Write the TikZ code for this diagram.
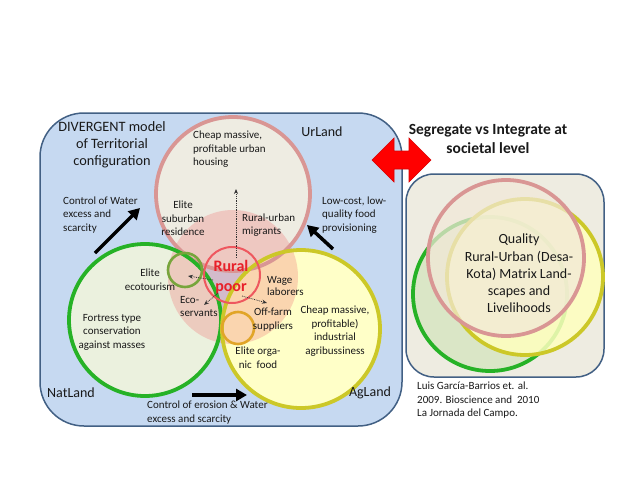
\documentclass[tikz,border=0pt]{standalone}
\usepackage{fontspec}
\setmainfont{Carlito}
\usetikzlibrary{arrows.meta}
\definecolor{boxblue}{RGB}{198,217,241}
\definecolor{boxedge}{RGB}{66,96,132}
\definecolor{beige}{RGB}{238,236,225}
\definecolor{urpink}{RGB}{217,150,148}
\definecolor{urfill}{RGB}{238,236,226}
\definecolor{natgreen}{RGB}{38,178,38}
\definecolor{natfill}{RGB}{235,241,222}
\definecolor{aggold}{RGB}{204,200,40}
\definecolor{agfill}{RGB}{255,255,200}
\definecolor{blobc}{RGB}{240,125,125}
\definecolor{rpred}{RGB}{232,32,42}
\definecolor{ecogreen}{RGB}{120,165,60}
\definecolor{orgold}{RGB}{225,165,40}
\definecolor{txt}{RGB}{25,25,25}
\definecolor{rgreen}{RGB}{218,230,198}
\definecolor{ryellow}{RGB}{255,255,190}
\definecolor{rpink}{RGB}{242,232,216}
\newcommand\myfs[2]{\fontsize{#1}{#2}\selectfont}
\tikzset{
  small/.style={inner sep=0, text=txt, font=\myfs{11}{13.5}},
  big/.style={inner sep=0, text=txt, font=\myfs{14}{17}},
  circ/.style={line width=3.8pt},
  dotarr/.style={densely dotted, line width=0.8pt, black!80, -{Stealth[length=5pt,width=4pt]}},
  bigarr/.style={line width=3.5pt, black, -{Triangle[length=11pt,width=12pt]}},
}
\begin{document}
\begin{tikzpicture}[x=1pt,y=-1pt]
\useasboundingbox (0,0) rectangle (638,493);
\fill[white] (0,0) rectangle (638,493);

% ---------- main (divergent) box ----------
\draw[boxedge, line width=1.5pt, fill=boxblue, rounded corners=44pt] (40,113) rectangle (402,426);

% circle fills
\fill[urfill] (233,194) circle (77pt);
\fill[natfill] (145,320) circle (76pt);
\fill[agfill] (301,329) circle (79pt);
% rural poor zone
\fill[blobc, opacity=0.32] (233,277) ellipse (65pt and 67pt);
% outlines
\draw[urpink, circ] (233,194) circle (77pt);
\draw[natgreen, circ] (145,320) circle (76pt);
\draw[aggold, circ] (301,329) circle (79pt);
\draw[ecogreen, line width=2.6pt] (185,270) circle (17pt);
\draw[orgold, line width=2.6pt] (238,328) circle (16pt);
\node[circle, draw=rpred!75, line width=2pt, minimum size=56pt, inner sep=0] (rp) at (232,275) {};
\node[inner sep=0, text=rpred, font=\bfseries\myfs{16}{20}, align=center] (rptxt) at (231,277) {Rural\\poor};

% dotted arrows from rural poor
\coordinate (upS) at (236,258);
\coordinate (upE) at (236,189);
\coordinate (ecS) at (213,280);
\coordinate (ecE) at (188,276);
\coordinate (esS) at (218,293);
\coordinate (esE) at (204,305);
\coordinate (wgS) at (242,296);
\coordinate (wgE) at (267,303);
\draw[dotarr] (upS) -- (upE);
\draw[dotarr] (ecS) -- (ecE);
\draw[dotarr] (esS) -- (esE);
\draw[dotarr] (wgS) -- (wgE);

% thick black arrows
\coordinate (w1S) at (95,253);
\coordinate (w1E) at (140,208);
\coordinate (w2S) at (333,249);
\coordinate (w2E) at (307,225);
\coordinate (w3S) at (192,395);
\coordinate (w3E) at (247,395);
\draw[bigarr] (w1S) -- (w1E);
\draw[bigarr] (w2S) -- (w2E);
\draw[bigarr] (w3S) -- (w3E);

% texts left box
\node[inner sep=0, text=txt, font=\myfs{14.3}{17}, align=center] (title) at (112,145) {DIVERGENT model\\of Territorial\\configuration};
\node[small, anchor=west, align=left] (cheapurb) at (193,149.5) {Cheap massive,\\profitable urban\\housing};
\node[big] (urland) at (322,132) {UrLand};
\node[small, align=center] (elitesub) at (183,218.5) {Elite\\suburban\\residence};
\node[small, anchor=west, align=left] (migr) at (242,225) {Rural-urban\\migrants};
\node[small, anchor=west, align=left] (lowcost) at (322,215) {Low-cost, low-\\quality food\\provisioning};
\node[small, anchor=west, align=left] (ctrlw) at (63,215) {Control of Water\\excess and\\scarcity};
\node[small, align=center] (eliteeco) at (150,279.5) {Elite\\ecotourism};
\node[small, anchor=west, align=left] (ecoserv) at (180,306.5) {Eco-\\servants};
\node[small, align=center] (fortress) at (112,332) {Fortress type\\conservation\\against masses};
\node[inner sep=0, text=txt, font=\myfs{11}{12.5}, anchor=west, align=left] (wage) at (267,286) {Wage\\laborers};
\node[small, align=center] (offfarm) at (273,319.5) {Off-farm\\suppliers};
\node[small, align=center] (cheapag) at (335,331) {Cheap massive,\\profitable)\\industrial\\agribussiness};
\node[small, align=center] (eliteorg) at (258,357.5) {Elite orga-\\nic~~food};
\node[big] (natland) at (71,393) {NatLand};
\node[big] (agland) at (370,393) {AgLand};
\node[small, anchor=west, align=left] (ctrler) at (147,412.5) {Control of erosion \& Water\\excess and scarcity};

% ---------- red double arrow ----------
\draw[red!85!black, line width=0.6pt, fill=red]
  (372,160) -- (394,138) -- (394,151) -- (409,151) -- (409,138) -- (431,160)
  -- (409,182) -- (409,169) -- (394,169) -- (394,182) -- cycle;
\node[inner sep=0, text=txt, font=\bfseries\myfs{15.5}{19}, align=center] (seg) at (488,138.5) {Segregate vs Integrate at\\societal level};

% ---------- right (integrated) box ----------
\draw[boxedge, line width=1.5pt, fill=beige, rounded corners=28pt] (406,174) rectangle (604,377);
\fill[rgreen] (490,294) circle (77pt);
\draw[natgreen, circ] (490,294) circle (77pt);
\fill[ryellow, opacity=0.85] (525,277) circle (78pt);
\draw[aggold, circ] (525,277) circle (78pt);
\fill[rpink, opacity=0.72] (506,258) circle (78pt);
\draw[urpink, circ] (506,258) circle (78pt);
\node[inner sep=0, text=txt, font=\myfs{14}{17.3}, align=center] (quality) at (519,273.5) {Quality\\Rural-Urban (Desa-\\Kota) Matrix Land-\\scapes and\\Livelihoods};
\node[small, anchor=west, align=left] (cite) at (417,400.5) {Luis García-Barrios et. al.\\2009. Bioscience and~~2010\\La Jornada del Campo.};
\end{tikzpicture}
\end{document}
